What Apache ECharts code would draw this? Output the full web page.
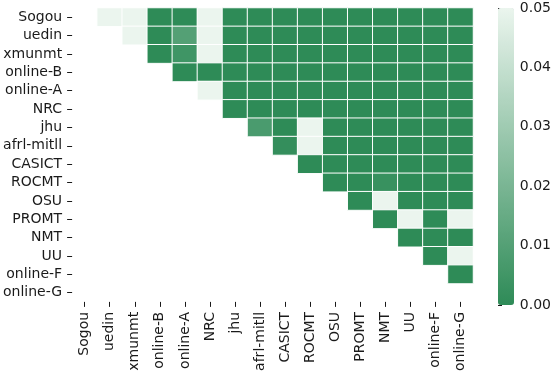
<!DOCTYPE html>
<html>
<head>
<meta charset="utf-8">
<script src="https://cdn.jsdelivr.net/npm/echarts@6/dist/echarts.min.js"></script>
<style>html,body{margin:0;padding:0;background:#fff}#c{width:554px;height:374px}</style>
</head>
<body>
<div id="c"></div>
<script>
// systems (rows and columns)
const systems = ["Sogou","uedin","xmunmt","online-B","online-A","NRC","jhu","afrl-mitll","CASICT","ROCMT","OSU","PROMT","NMT","UU","online-F","online-G"];
// colorbar ticks
const colorbarTicks = [0.00, 0.01, 0.02, 0.03, 0.04, 0.05];
// p-values per row (null = not shown)
const _ = null;
const rowSogou    = [_, .05, .05, 0, 0, .05, 0, 0, 0, 0, 0, 0, 0, 0, 0, 0];
const rowUedin    = [_, _, .05, 0, .010, .05, 0, 0, 0, 0, 0, 0, 0, 0, 0, 0];
const rowXmunmt   = [_, _, _, 0, .0045, .05, 0, 0, 0, 0, 0, 0, 0, 0, 0, 0];
const rowOnlineB  = [_, _, _, _, 0, 0, 0, 0, 0, 0, 0, 0, 0, 0, 0, 0];
const rowOnlineA  = [_, _, _, _, _, .05, 0, 0, 0, 0, 0, 0, 0, 0, 0, 0];
const rowNRC      = [_, _, _, _, _, _, 0, 0, 0, 0, 0, 0, 0, 0, 0, 0];
const rowJhu      = [_, _, _, _, _, _, _, .0075, 0, .05, 0, 0, 0, 0, 0, 0];
const rowAfrl     = [_, _, _, _, _, _, _, _, .0016, .05, 0, 0, 0, 0, 0, 0];
const rowCASICT   = [_, _, _, _, _, _, _, _, _, 0, 0, 0, 0, 0, 0, 0];
const rowROCMT    = [_, _, _, _, _, _, _, _, _, _, 0, 0, .0027, 0, 0, 0];
const rowOSU      = [_, _, _, _, _, _, _, _, _, _, _, 0, .05, 0, 0, 0];
const rowPROMT    = [_, _, _, _, _, _, _, _, _, _, _, _, 0, .05, 0, .05];
const rowNMT      = [_, _, _, _, _, _, _, _, _, _, _, _, _, 0, 0, 0];
const rowUU       = [_, _, _, _, _, _, _, _, _, _, _, _, _, _, 0, .05];
const rowOnlineF  = [_, _, _, _, _, _, _, _, _, _, _, _, _, _, _, 0];
const rowOnlineG  = [_, _, _, _, _, _, _, _, _, _, _, _, _, _, _, _];

const rows = [rowSogou,rowUedin,rowXmunmt,rowOnlineB,rowOnlineA,rowNRC,rowJhu,rowAfrl,rowCASICT,rowROCMT,rowOSU,rowPROMT,rowNMT,rowUU,rowOnlineF,rowOnlineG];
const data = [];
rows.forEach((r, i) => r.forEach((v, j) => { if (v !== null) data.push([j, i, v]); }));

const FONT = 'DejaVu Sans';
const FS = 14;
const TXT = '#1a1a1a';
const chart = echarts.init(document.getElementById('c'), null, {renderer: 'canvas'});
chart.setOption({
  animation: false,
  textStyle: {fontFamily: FONT},
  grid: [
    {left: 68, top: 8, width: 405, height: 297, containLabel: false},
    {left: 498, top: 8, width: 16, height: 297, containLabel: false}
  ],
  xAxis: [
    {
      type: 'category', data: systems, gridIndex: 0, position: 'bottom',
      axisLine: {show: false},
      axisTick: {show: true, alignWithLabel: true, length: 5, lineStyle: {color: TXT, width: 1}},
      axisLabel: {rotate: 90, interval: 0, margin: 10, fontSize: FS, color: TXT, fontFamily: FONT},
      splitLine: {show: false}, splitArea: {show: false}
    },
    {type: 'value', gridIndex: 1, show: false, min: 0, max: 1}
  ],
  yAxis: [
    {
      type: 'category', data: systems, gridIndex: 0, inverse: true,
      axisLine: {show: false},
      axisTick: {show: true, alignWithLabel: true, length: 5, lineStyle: {color: TXT, width: 1}},
      axisLabel: {interval: 0, margin: 10, fontSize: FS, color: TXT, fontFamily: FONT},
      splitLine: {show: false}, splitArea: {show: false}
    },
    {
      type: 'value', gridIndex: 1, position: 'right', min: colorbarTicks[0], max: colorbarTicks[colorbarTicks.length-1], interval: 0.01,
      axisLine: {show: false},
      axisTick: {show: true, length: 4, lineStyle: {color: TXT, width: 1}},
      axisLabel: {margin: 7, fontSize: FS, color: TXT, fontFamily: FONT, formatter: v => v.toFixed(2)},
      splitLine: {show: false}
    }
  ],
  visualMap: {
    type: 'continuous', min: 0, max: 0.05, dimension: 2, seriesIndex: 0,
    calculable: false, realtime: false,
    left: 498, top: 8, padding: 0,
    itemWidth: 16, itemHeight: 297,
    text: null, showLabel: false,
    inRange: {color: ['#2e8b57', '#ebf5ee']}
  },
  series: [{
    type: 'heatmap', xAxisIndex: 0, yAxisIndex: 0, data: data,
    itemStyle: {borderColor: '#ffffff', borderWidth: 1},
    emphasis: {disabled: true}
  }]
});
</script>
</body>
</html>
